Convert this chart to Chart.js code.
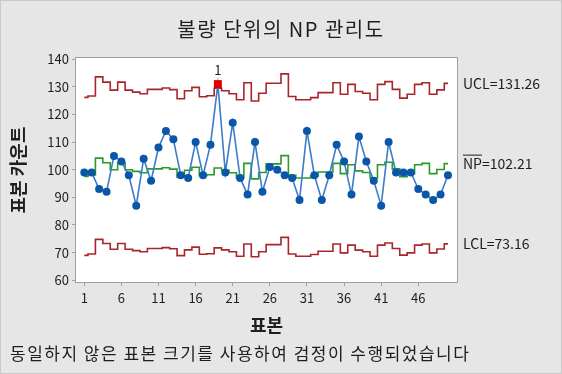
<!DOCTYPE html>
<html>
<head>
<meta charset="utf-8">
<title>불량 단위의 NP 관리도</title>
<script src="https://cdn.jsdelivr.net/npm/chart.js"></script>
<style>
  body { margin: 0; background: #e6e6e6; }
  #wrap { width: 562px; height: 374px; position: relative; }
</style>
</head>
<body>
<div id="wrap"><canvas id="npChart"></canvas></div>
<script>
// 표본별 불량 단위 수 (표본 1..50)
const counts = [99, 99, 93, 92, 105, 103, 98, 87, 104, 96,
                108, 114, 111, 98, 97, 110, 98, 109, 131, 99,
                117, 97, 91, 110, 92, 101, 100, 98, 97, 89,
                114, 98, 89, 98, 109, 103, 91, 112, 103, 96,
                87, 110, 99, 99, 99, 93, 91, 89, 91, 98];

// 관리 한계 (표본 크기가 달라서 표본마다 다름)
const ucl = [126.2, 126.7, 133.6, 131.7, 128.8, 131.7, 128.8, 128.1, 127.5, 129.1,
             129.1, 129.6, 129.0, 125.7, 128.6, 129.8, 126.4, 126.8, 129.5, 128.6,
             127.5, 125.3, 131.5, 124.9, 127.7, 131.3, 131.3, 134.7, 126.5, 125.3,
             125.3, 126.1, 127.9, 127.9, 131.5, 127.3, 130.9, 128.3, 127.7, 125.3,
             130.9, 131.9, 129.1, 125.9, 127.3, 130.9, 131.5, 127.3, 128.9, 131.26];
const center = [97.6, 98.1, 104.2, 102.5, 100.0, 102.5, 100.0, 99.4, 98.9, 100.3,
                100.3, 100.7, 100.2, 97.3, 99.8, 100.9, 97.9, 98.2, 100.6, 99.8,
                98.9, 97.0, 102.3, 96.7, 99.0, 102.1, 102.1, 105.1, 98.0, 97.0,
                97.0, 97.7, 99.2, 99.2, 102.3, 98.6, 101.8, 99.6, 99.0, 97.0,
                101.8, 102.7, 100.3, 97.5, 98.6, 101.8, 102.3, 98.6, 100.1, 102.21];
const lcl = [69.0, 69.5, 74.8, 73.3, 71.2, 73.3, 71.2, 70.7, 70.3, 71.5,
             71.5, 71.8, 71.4, 68.9, 71.0, 72.0, 69.4, 69.6, 71.7, 71.0,
             70.3, 68.7, 73.1, 68.5, 70.3, 72.9, 72.9, 75.5, 69.5, 68.7,
             68.7, 69.3, 70.5, 70.5, 73.1, 69.9, 72.7, 70.9, 70.3, 68.7,
             72.7, 73.5, 71.5, 69.1, 69.9, 72.7, 73.1, 69.9, 71.3, 73.16];

const xTicks = [1, 6, 11, 16, 21, 26, 31, 36, 41, 46];
const yTicks = [60, 70, 80, 90, 100, 110, 120, 130, 140];
const limitText = { ucl: 'UCL=131.26', center: 'NP=102.21', lcl: 'LCL=73.16' };

const RED = '#a8262b';
const GREEN = '#2a9a2a';
const BLUE_LINE = '#3c7cc8';
const BLUE_PT = '#0a56a8';
const FONT = "'Noto Sans CJK KR', 'Noto Sans', sans-serif";

function xy(arr) {
    return arr.map((v, i) => ({ x: i + 1, y: v }));
}

function isOut(i) {
    return counts[i] > ucl[i] || counts[i] < lcl[i];
}

// 배경, 틀, 제목, 한계선 라벨
const decor = {
    id: 'decor',
    beforeDraw(chart) {
        const { ctx, chartArea: a } = chart;
        ctx.save();
        ctx.fillStyle = '#e6e6e6';
        ctx.fillRect(0, 0, chart.width, chart.height);
        ctx.strokeStyle = '#c9c9c9';
        ctx.lineWidth = 1;
        ctx.strokeRect(0.5, 0.5, chart.width - 1, chart.height - 1);
        ctx.fillStyle = '#ffffff';
        ctx.fillRect(a.left, a.top, a.right - a.left, a.bottom - a.top);
        ctx.restore();
    },
    afterDraw(chart) {
        const { ctx, chartArea: a } = chart;
        const ys = chart.scales.y, xs = chart.scales.x;
        ctx.save();
        ctx.strokeStyle = '#a0a0a0';
        ctx.lineWidth = 1;
        ctx.strokeRect(a.left + 0.5, a.top + 0.5, a.right - a.left - 1, a.bottom - a.top - 1);

        ctx.fillStyle = '#1e1e1e';
        ctx.textBaseline = 'middle';
        ctx.textAlign = 'center';
        ctx.font = '20px ' + FONT;
        ctx.letterSpacing = '1.5px';
        ctx.fillText('불량 단위의 NP 관리도', 281, 29);

        ctx.textAlign = 'left';
        ctx.font = '17px ' + FONT;
        ctx.letterSpacing = '1.5px';
        ctx.fillText('동일하지 않은 표본 크기를 사용하여 검정이 수행되었습니다', 10, 354);
        ctx.letterSpacing = '0px';

        // 오른쪽 한계값 라벨
        const n = counts.length - 1;
        const lx = a.right + 5;
        ctx.font = '14px ' + FONT;
        ctx.fillText(limitText.ucl, lx, ys.getPixelForValue(ucl[n]));
        ctx.fillText(limitText.lcl, lx, ys.getPixelForValue(lcl[n]));
        const cy = ys.getPixelForValue(center[n]);
        ctx.fillText(limitText.center, lx, cy);
        const w = ctx.measureText('NP').width;
        ctx.strokeStyle = '#1e1e1e';
        ctx.beginPath();
        ctx.moveTo(lx, cy - 8.5);
        ctx.lineTo(lx + w, cy - 8.5);
        ctx.stroke();

        // 관리 이탈 표시
        ctx.textAlign = 'center';
        ctx.font = '13px ' + FONT;
        counts.forEach((v, i) => {
            if (isOut(i)) {
                ctx.fillText('1', xs.getPixelForValue(i + 1), ys.getPixelForValue(v) - 14);
            }
        });
        ctx.restore();
    }
};

function createChart() {
    const canvas = document.getElementById('npChart');
    new Chart(canvas, {
        type: 'line',
        data: {
            datasets: [
                {
                    label: '표본',
                    data: xy(counts),
                    borderColor: BLUE_LINE,
                    borderWidth: 1.6,
                    pointRadius: ctx => isOut(ctx.dataIndex) ? 5.6 : 4,
                    pointStyle: ctx => isOut(ctx.dataIndex) ? 'rect' : 'circle',
                    pointBackgroundColor: ctx => isOut(ctx.dataIndex) ? '#e00000' : BLUE_PT,
                    pointBorderWidth: 0,
                    tension: 0
                },
                {
                    label: 'NP',
                    data: xy(center),
                    borderColor: GREEN,
                    borderWidth: 1.6,
                    pointRadius: 0,
                    stepped: 'middle'
                },
                {
                    label: 'UCL',
                    data: xy(ucl),
                    borderColor: RED,
                    borderWidth: 1.6,
                    pointRadius: 0,
                    stepped: 'middle'
                },
                {
                    label: 'LCL',
                    data: xy(lcl),
                    borderColor: RED,
                    borderWidth: 1.6,
                    pointRadius: 0,
                    stepped: 'middle'
                }
            ]
        },
        options: {
            responsive: true,
            maintainAspectRatio: false,
            animation: false,
            layout: { padding: { top: 57, right: 104, bottom: 34, left: 0 } },
            plugins: {
                legend: { display: false },
                tooltip: { enabled: false }
            },
            scales: {
                x: {
                    type: 'linear',
                    min: -0.25,
                    max: 51.35,
                    afterBuildTicks: s => { s.ticks = xTicks.map(v => ({ value: v })); },
                    afterFit: s => { s.height = 57; },
                    grid: { drawOnChartArea: false, tickLength: 3, color: '#a0a0a0' },
                    border: { display: false },
                    ticks: {
                        maxRotation: 0,
                        autoSkip: false,
                        padding: 4,
                        color: '#1e1e1e',
                        font: { family: FONT, size: 13 }
                    },
                    title: {
                        display: true,
                        text: '표본',
                        color: '#1e1e1e',
                        font: { family: FONT, size: 18, weight: 'bold' },
                        padding: { top: 0, bottom: 4 }
                    }
                },
                y: {
                    min: 59,
                    max: 140.8,
                    afterBuildTicks: s => { s.ticks = yTicks.map(v => ({ value: v })); },
                    afterFit: s => { s.width = 75; },
                    grid: { drawOnChartArea: false, tickLength: 3, color: '#a0a0a0' },
                    border: { display: false },
                    ticks: {
                        padding: 3,
                        color: '#1e1e1e',
                        font: { family: FONT, size: 13 }
                    },
                    title: {
                        display: true,
                        text: '표본 카운트',
                        color: '#1e1e1e',
                        font: { family: FONT, size: 18, weight: 'bold' },
                        padding: { top: 7, bottom: 0 }
                    }
                }
            }
        },
        plugins: [decor]
    });
}

window.onload = () => {
    createChart();
};
</script>
</body>
</html>
